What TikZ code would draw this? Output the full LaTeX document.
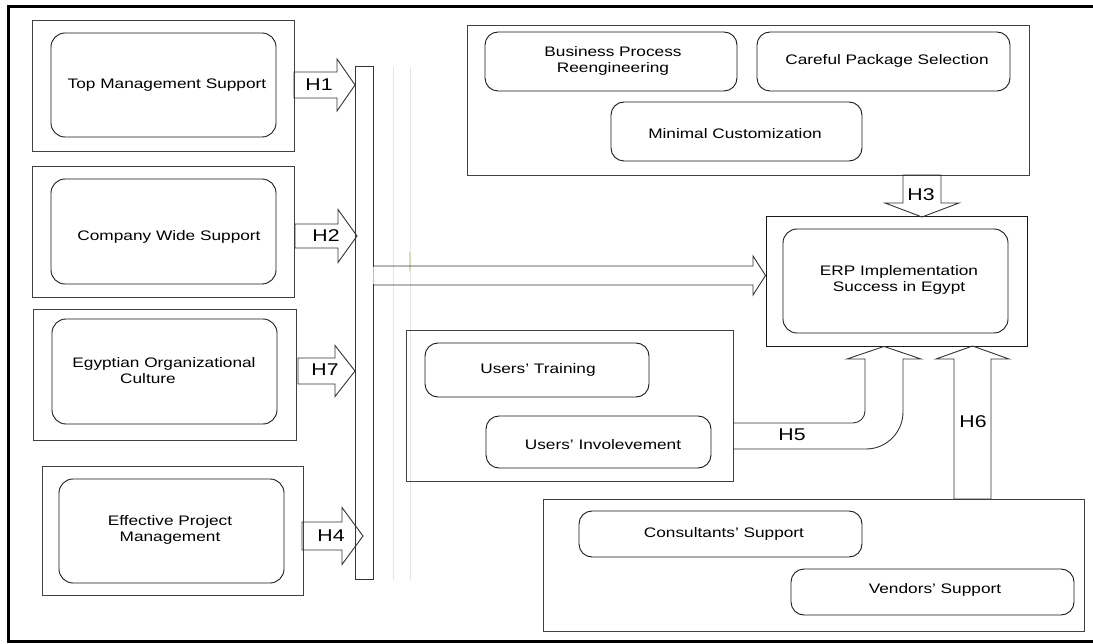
\documentclass[tikz,border=0pt]{standalone}
\usepackage{fontspec}
\setmainfont{Liberation Sans}[FakeStretch=1.25]
\usetikzlibrary{calc}
\tikzset{
  obox/.style={draw=black!75, line width=0.9pt, inner sep=0pt, minimum width=#1},
  ibox/.style={draw=black!90, line width=0.9pt, rounded corners=14pt, inner sep=0pt},
  txt/.style={inner sep=0pt, align=center, text=black, font=\fontsize{13.8}{16}\selectfont},
  hlab/.style={inner sep=0pt, text=black, font=\fontsize{17}{20}\selectfont},
  blk/.style={draw=black!80, line width=0.9pt, line join=miter},
  faint/.style={draw=black!10, line width=0.7pt}
}
\newcommand\hblk[5]{\draw[blk] ($(#1)+(0,-#3)$) -- ($(#2)+(-#5,-#3)$) -- ($(#2)+(-#5,-#4)$) -- (#2) -- ($(#2)+(-#5,#4)$) -- ($(#2)+(-#5,#3)$) -- ($(#1)+(0,#3)$) -- cycle;}
\newcommand\ublk[5]{\draw[blk] ($(#1)+(-#3,0)$) -- ($(#2)+(-#3,#5)$) -- ($(#2)+(-#4,#5)$) -- (#2) -- ($(#2)+(#4,#5)$) -- ($(#2)+(#3,#5)$) -- ($(#1)+(#3,0)$) -- cycle;}
\newcommand\dblk[5]{\draw[blk] ($(#1)+(-#3,0)$) -- ($(#2)+(-#3,-#5)$) -- ($(#2)+(-#4,-#5)$) -- (#2) -- ($(#2)+(#4,-#5)$) -- ($(#2)+(#3,-#5)$) -- ($(#1)+(#3,0)$) -- cycle;}
\begin{document}
\begin{tikzpicture}[x=1pt,y=-1pt]
\useasboundingbox (0,0) rectangle (1093,644);
\fill[white] (0,0) rectangle (1093,644);
% outer frame (right side cut off)
\draw[line width=3pt, black] (1100,6.5) -- (8.5,6.5) -- (8.5,641) -- (1100,641);

% faint guide lines
\draw[faint] (393,67) -- (393,580);
\draw[faint] (410,67) -- (410,580);
\draw[line width=2pt, draw={rgb,255:red,214;green,218;blue,190}] (410,252) -- (410,271);

% left column
\node[obox=262pt, minimum height=131pt] (ob1) at (163,85.5) {};
\node[ibox, minimum width=225pt, minimum height=104pt] (ib1) at (163.5,85) {};
\node[txt] (t1) at (167,85) {Top Management Support};

\node[obox=262pt, minimum height=131pt] (ob2) at (163,231.5) {};
\node[ibox, minimum width=225pt, minimum height=105pt] (ib2) at (163.5,231.5) {};
\node[txt] (t2) at (169,237) {Company Wide Support};

\node[obox=263pt, minimum height=131pt] (ob3) at (164.5,374.5) {};
\node[ibox, minimum width=225pt, minimum height=105pt] (ib3) at (164.5,371.5) {};
\node[txt] (t3) at (164,370.5) {Egyptian Organizational\\Culture\hspace*{32pt}};

\node[obox=261pt, minimum height=129pt] (ob4) at (172.5,530.5) {};
\node[ibox, minimum width=225pt, minimum height=104pt] (ib4) at (171.5,531) {};
\node[txt] (t4) at (170,530) {Effective Project\\Management};

% vertical collector bar
\node[obox=18pt, minimum height=513pt, draw=black!80] (bar) at (364,322.5) {};

% H arrows into the bar
\coordinate (h1s) at (294,85);  \coordinate (h1t) at (355,85);
\coordinate (h2s) at (295,236); \coordinate (h2t) at (357,236);
\coordinate (h7s) at (298,371); \coordinate (h7t) at (355,371);
\coordinate (h4s) at (302,536); \coordinate (h4t) at (363,536);
\hblk{h1s}{h1t}{13}{26}{18}
\hblk{h2s}{h2t}{12}{26.5}{19}
\hblk{h7s}{h7t}{13}{25.5}{20}
\hblk{h4s}{h4t}{14}{28.5}{21}
\node[hlab] (l1) at (319,85) {H1};
\node[hlab] (l2) at (326,236) {H2};
\node[hlab] (l7) at (325,370) {H7};
\node[hlab] (l4) at (331,536) {H4};

% top right group
\node[obox=562pt, minimum height=150pt] (gtop) at (748,100) {};
\node[ibox, rounded corners=13pt, minimum width=252pt, minimum height=59pt] (bpr) at (611,61.5) {};
\node[txt] (tbpr) at (613,61) {Business Process\\Reengineering};
\node[ibox, rounded corners=13pt, minimum width=253pt, minimum height=59pt] (cps) at (883.5,61.5) {};
\node[txt] (tcps) at (887,61) {Careful Package Selection};
\node[ibox, rounded corners=13pt, minimum width=251pt, minimum height=59pt] (mc) at (736.5,131.5) {};
\node[txt] (tmc) at (735,134) {Minimal Customization};

% ERP box
\node[obox=261pt, minimum height=130pt, draw=black!90] (erpo) at (896.5,281) {};
\node[ibox, minimum width=225pt, minimum height=104pt] (erpi) at (895.5,281) {};
\node[txt] (terp) at (899,280) {ERP Implementation\\Success in Egypt};

% H3 arrow (down)
\coordinate (h3s) at (922,175); \coordinate (h3t) at (922,217);
\dblk{h3s}{h3t}{19}{37}{14}
\node[hlab] (l3) at (921,195) {H3};

% big arrow from bar to ERP
\draw[line width=1.2pt, white] (bar.east|-0,267) -- (bar.east|-0,284);
\draw[line width=0.6pt, black!25] (bar.east|-0,267) -- (bar.east|-0,284);
\draw[blk] (bar.east|-0,266) -- (753,266) -- (753,256) -- (erpo.west|-0,275.5) -- (753,295) -- (753,285) -- (bar.east|-0,285);

% users group
\node[obox=327pt, minimum height=151pt] (gusr) at (569.5,405.5) {};
\node[ibox, rounded corners=13pt, minimum width=224pt, minimum height=54pt] (ut) at (537,370) {};
\node[txt] (tut) at (538,370) {Users' Training};
\node[ibox, rounded corners=13pt, minimum width=225pt, minimum height=52pt] (ui) at (598.5,442) {};
\node[txt] (tui) at (603,445) {Users' Involevement};

% H5 bent arrow
\draw[blk] (gusr.east|-0,423) -- (853,423) .. controls (859.6,423) and (865,417.6) .. (865,411)
  -- (865,359) -- (847,359) -- (erpo.south-|884,0) -- (921,359) -- (903,359) -- (903,412)
  .. controls (903,432.4) and (886.4,449) .. (866,449) -- (gusr.east|-0,449);
\node[hlab] (l5) at (792,435) {H5};

% bottom group
\node[obox=541pt, minimum height=132pt] (gbot) at (813.5,565) {};
\node[ibox, rounded corners=13pt, minimum width=283pt, minimum height=46pt] (cs) at (720.5,534) {};
\node[txt] (tcs) at (724,534) {Consultants' Support};
\node[ibox, rounded corners=13pt, minimum width=283pt, minimum height=46pt] (vs) at (932.5,592) {};
\node[txt] (tvs) at (935,590) {Vendors' Support};

% H6 arrow (up)
\coordinate (h6s) at (972.5,499); \coordinate (h6t) at (972.5,346);
\ublk{h6s}{h6t}{18.5}{36.5}{13}
\node[hlab] (l6) at (973,422) {H6};
\end{tikzpicture}
\end{document}
